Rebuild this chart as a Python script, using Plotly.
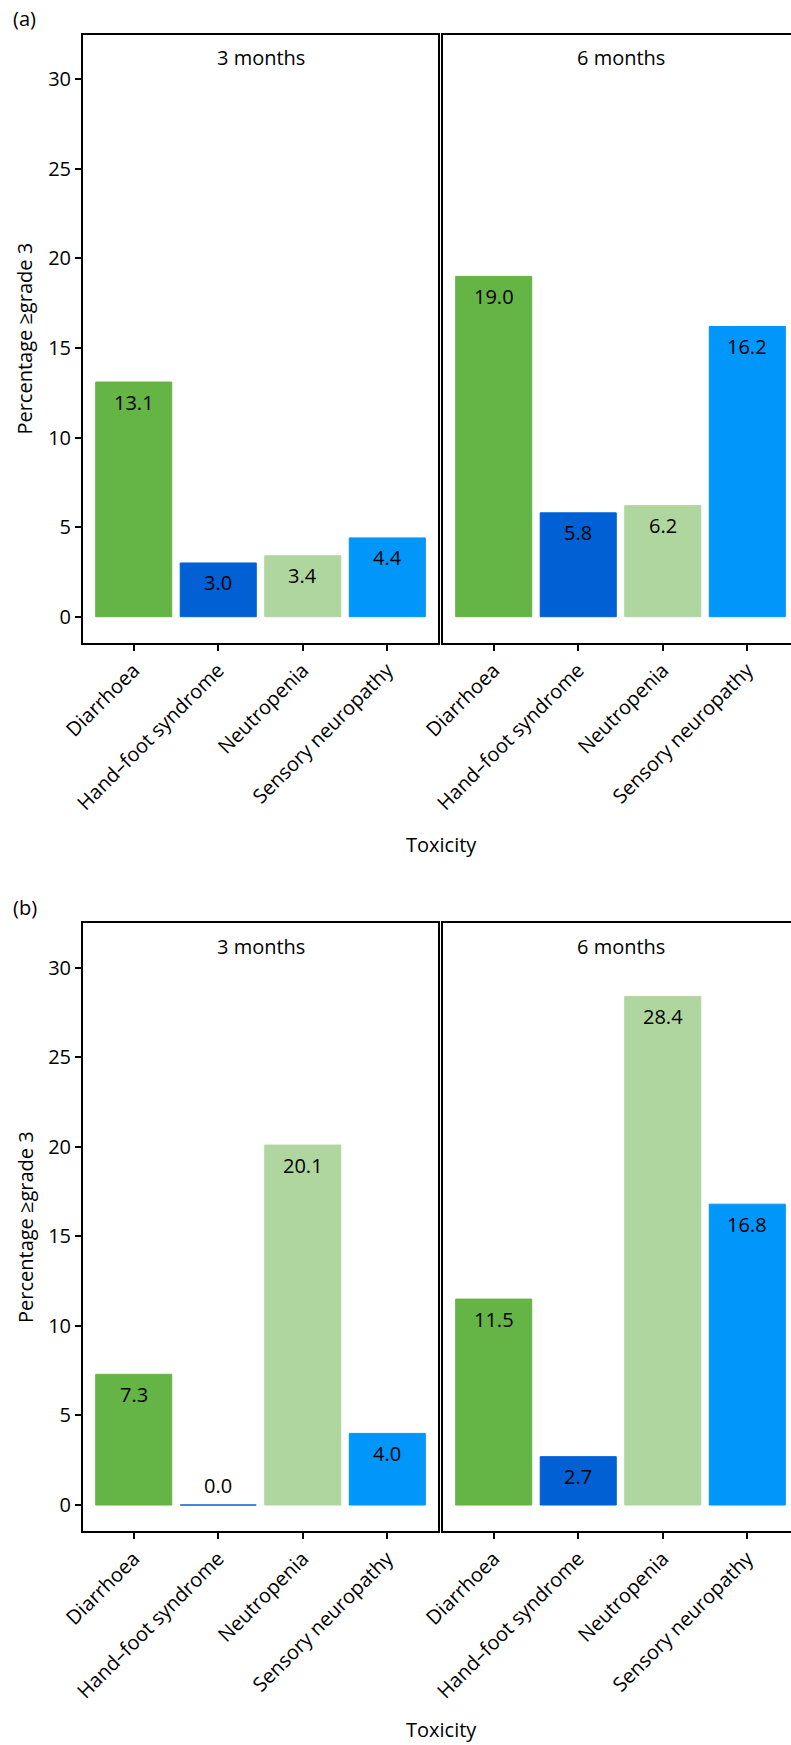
import plotly.graph_objects as go

categories = ["Diarrhoea", "Hand\u2013foot syndrome", "Neutropenia", "Sensory neuropathy"]
facets = ["3 months", "6 months"]
panel_a_3m = [13.1, 3.0, 3.4, 4.4]
panel_a_6m = [19.0, 5.8, 6.2, 16.2]
panel_b_3m = [7.3, 0.0, 20.1, 4.0]
panel_b_6m = [11.5, 2.7, 28.4, 16.8]
panel_labels = ["(a)", "(b)"]
y_ticks = [0, 5, 10, 15, 20, 25, 30]
y_title = "Percentage \u2265grade 3"
x_title = "Toxicity"

bar_colors = ["#64B446", "#0060D4", "#B0D6A0", "#0096FA"]

W, H = 791, 1745
FONT = "Open Sans"
FS = 20


def px_x(p):
    return p / W


def px_y(p):
    return 1 - p / H


fig = go.Figure()

# panel geometry in pixels
left_x = (83, 438)
right_x = (443, 791)
unit = (left_x[1] - left_x[0]) / 4.2
right_hi = -0.6 + (right_x[1] - right_x[0]) / unit
rows = [(34.5, 642.7), (923, 1531)]
title_offsets = [202, 198]
yrange = [-1.45, 32.5]

data_sets = [[panel_a_3m, panel_a_6m], [panel_b_3m, panel_b_6m]]

ax_idx = 0
annotations = []
for r, (top, bot) in enumerate(rows):
    for c in range(2):
        ax_idx += 1
        sfx = "" if ax_idx == 1 else str(ax_idx)
        vals = data_sets[r][c]
        xd = left_x if c == 0 else right_x
        fig.add_trace(go.Bar(
            x=categories, y=vals, width=0.9,
            marker=dict(color=bar_colors, line=dict(color=bar_colors, width=1)),
            xaxis="x" + sfx, yaxis="y" + sfx, showlegend=False,
            hoverinfo="skip",
        ))
        for cat, v in zip(categories, vals):
            annotations.append(dict(
                x=cat, y=v, xref="x" + sfx, yref="y" + sfx,
                text=f"{v:.1f}", showarrow=False,
                yanchor="middle", yshift=-20 if v > 0 else 20,
                font=dict(family=FONT, size=FS, color="black"),
            ))
        xr = [-0.6, 3.6] if c == 0 else [-0.6, right_hi]
        fig.update_layout(**{
            "xaxis" + sfx: dict(
                domain=[px_x(xd[0]), px_x(xd[1])], range=xr,
                anchor="y" + sfx, type="category",
                showline=True, linecolor="black", linewidth=2, mirror=True,
                ticks="outside", ticklen=6, tickwidth=2, tickcolor="black",
                tickangle=-45, tickfont=dict(family=FONT, size=FS, color="black"),
                showgrid=False, zeroline=False, automargin=False,
                fixedrange=True,
            ),
            "yaxis" + sfx: dict(
                domain=[px_y(bot), px_y(top)], range=yrange,
                anchor="x" + sfx,
                showline=True, linecolor="black", linewidth=2,
                mirror=(c == 0),
                tickvals=y_ticks if c == 0 else [],
                ticks="outside" if c == 0 else "", ticklen=6, tickwidth=2,
                tickcolor="black", showticklabels=(c == 0),
                tickfont=dict(family=FONT, size=FS, color="black"),
                showgrid=False, zeroline=False, automargin=False,
                fixedrange=True,
            ),
        })
        # facet strip title
        annotations.append(dict(
            x=px_x((xd[0] + (xd[0] + 4.2 * unit)) / 2), y=px_y(top + 23.5),
            xref="paper", yref="paper", text=facets[c], showarrow=False,
            xanchor="center", yanchor="middle",
            font=dict(family=FONT, size=FS, color="black"),
        ))
    # panel label, y title and x title
    annotations.append(dict(
        x=px_x(11), y=px_y(top - 16), xref="paper", yref="paper",
        text=panel_labels[r], showarrow=False, xanchor="left", yanchor="middle",
        font=dict(family=FONT, size=FS, color="black"),
    ))
    annotations.append(dict(
        x=px_x(25), y=px_y((top + bot) / 2), xref="paper", yref="paper",
        text=y_title, showarrow=False, textangle=-90,
        xanchor="center", yanchor="middle",
        font=dict(family=FONT, size=FS, color="black"),
    ))
    annotations.append(dict(
        x=px_x(441), y=px_y(bot + title_offsets[r]), xref="paper", yref="paper",
        text=x_title, showarrow=False, xanchor="center", yanchor="middle",
        font=dict(family=FONT, size=FS, color="black"),
    ))

fig.update_layout(
    template="none",
    width=W, height=H,
    margin=dict(l=0, r=0, t=0, b=0, pad=0),
    paper_bgcolor="white", plot_bgcolor="white",
    bargap=0.1,
    annotations=annotations,
    font=dict(family=FONT, size=FS, color="black"),
)

fig.write_html("out.html", config={"displayModeBar": False},
               post_script="document.body.style.margin='0';")
